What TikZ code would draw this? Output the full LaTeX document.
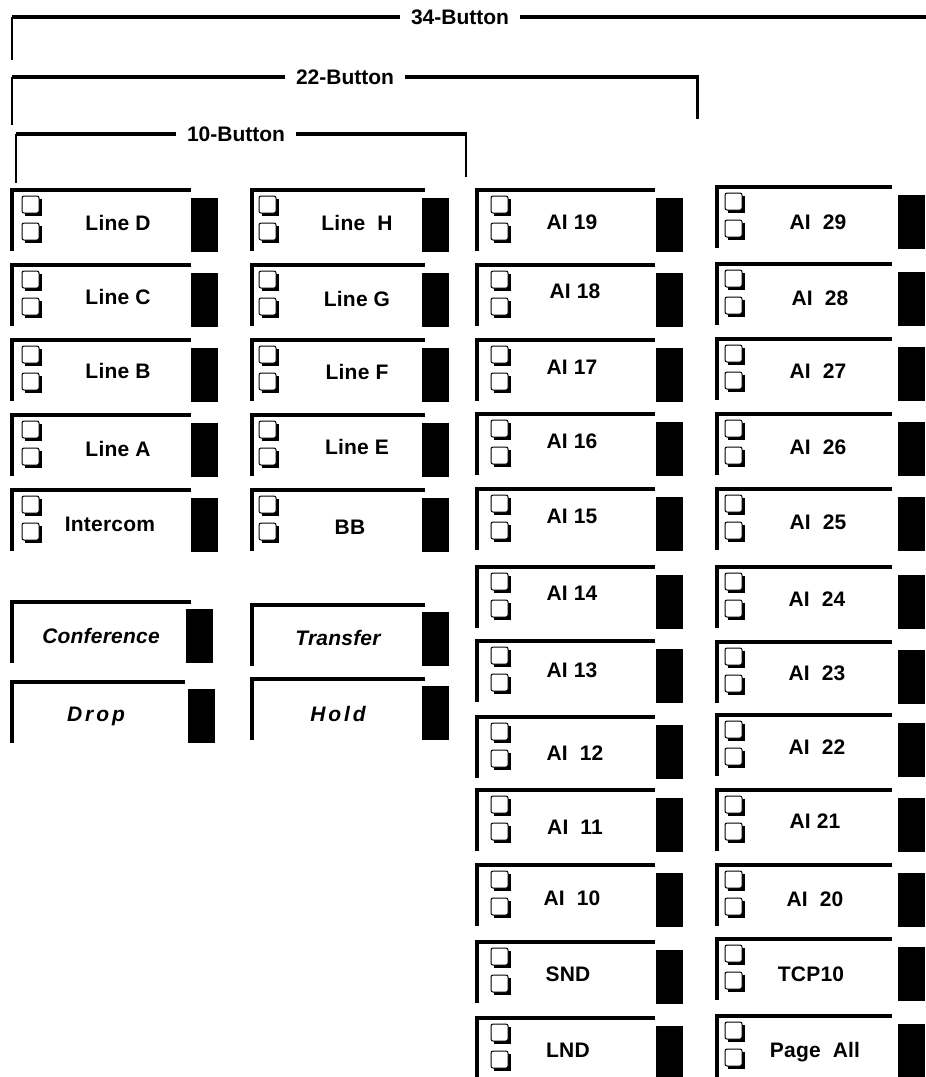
\documentclass[tikz,border=0pt]{standalone}
\usepackage{fontspec}
\setmainfont{Liberation Sans}
\newfontfamily\keyfont{Liberation Sans}[LetterSpace=1.0]
\newfontfamily\spreadfont{Liberation Sans}[LetterSpace=14.0]

\tikzset{
  keyline/.style={line width=4pt},
  tickline/.style={line width=2pt},
  keytext/.style={font=\fontsize{21}{23}\selectfont\keyfont\bfseries, inner sep=0pt,
    text height=15pt, text depth=0pt},
  feattext/.style={keytext, font=\fontsize{21}{23}\selectfont\keyfont\bfseries\itshape},
  headtext/.style={keytext, font=\fontsize{21}{23}\selectfont\bfseries, inner xsep=11pt}
}

% lamp square with its shadow
\newcommand{\keylamp}[2]{%
  \fill (#1+3,#2+3) rectangle (#1+20,#2+20);
  \filldraw[fill=white, line width=1pt, rounded corners=2pt] (#1,#2) rectangle (#1+17,#2+17);
}
% button with two lamps: name, x0, y0, label x, label y, text
\newcommand{\linekey}[6]{%
  \draw[keyline] (#2+2,#3) -- (#2+2,#3+63);
  \draw[keyline] (#2,#3+2) -- (#2+\keylen,#3+2);
  \keylamp{#2+\lampx}{#3+8}
  \keylamp{#2+\lampx}{#3+35}
  \fill (#2+\keyrect,#3+10) rectangle (#2+\keyrect+27,#3+64);
  \node[keytext] (#1) at (#4,#5) {#6};
}
% button without lamps
\newcommand{\featkey}[6]{%
  \draw[keyline] (#2+2,#3) -- (#2+2,#3+63);
  \draw[keyline] (#2,#3+2) -- (#2+\keylen,#3+2);
  \fill (#2+\keyrect,#3+9) rectangle (#2+\keyrect+27,#3+63);
  \node[feattext] (#1) at (#4,#5) {#6};
}

\begin{document}
\begin{tikzpicture}[x=1pt,y=-1pt]
\useasboundingbox (0,0) rectangle (926,1077);

%Brackets
\node[headtext] (b34) at (460,17) {34-Button};
\draw[keyline] (12,17) -- (b34.west);
\draw[keyline] (b34.east) -- (926,17);
\draw[tickline] (12,17) -- (12,60);

\node[headtext] (b22) at (345,77) {22-Button};
\draw[keyline] (12,77) -- (b22.west);
\draw[keyline] (b22.east) -- (698.5,77);
\draw[tickline] (12,77) -- (12,125);
\draw[line width=3pt] (697,77) -- (697,119);

\node[headtext] (b10) at (236,134) {10-Button};
\draw[keyline] (16,134) -- (b10.west);
\draw[keyline] (b10.east) -- (467,134);
\draw[tickline] (16,134) -- (16,183);
\draw[tickline] (466,134) -- (466,177);

%Column 1
\def\keylen{181}\def\keyrect{181}\def\lampx{12}
\linekey{lineD}{10}{188}{118}{223}{Line D}
\linekey{lineC}{10}{263}{118}{297}{Line C}
\linekey{lineB}{10}{338}{118}{371}{Line B}
\linekey{lineA}{10}{413}{118}{449}{Line A}
\linekey{icom}{10}{488}{110}{524}{Intercom}
\def\keyrect{176}
\featkey{conf}{10}{600}{101}{636}{Conference}
\def\keylen{175}\def\keyrect{178}
\featkey{drop}{10}{680}{96}{714}{\spreadfont Drop}

%Column 2
\def\keylen{175}\def\keyrect{172}\def\lampx{9}
\linekey{lineH}{250}{188}{357}{223}{Line\ \ H}
\linekey{lineG}{250}{263}{357}{299}{Line G}
\linekey{lineF}{250}{338}{357}{372}{Line F}
\linekey{lineE}{250}{413}{357}{447}{Line E}
\linekey{bb}{250}{488}{350}{527}{BB}
\featkey{transfer}{250}{603}{338}{638}{Transfer}
\featkey{hold}{250}{677}{338}{714}{\spreadfont Hold}

%Column 3
\def\keylen{180}\def\keyrect{181}\def\lampx{16}
\linekey{ai19}{475}{188}{572}{222}{AI 19}
\linekey{ai18}{475}{263}{575}{291}{AI 18}
\linekey{ai17}{475}{338}{572}{367}{AI 17}
\linekey{ai16}{475}{412}{572}{441}{AI 16}
\linekey{ai15}{475}{487}{572}{516}{AI 15}
\linekey{ai14}{475}{565}{572}{593}{AI 14}
\linekey{ai13}{475}{639}{572}{670}{AI 13}
\linekey{ai12}{475}{715}{575}{753}{AI\ \ 12}
\linekey{ai11}{475}{788}{575}{827}{AI\ \ 11}
\linekey{ai10}{475}{863}{572}{898}{AI\ \ 10}
\linekey{snd}{475}{940}{568}{974}{SND}
\linekey{lnd}{475}{1016}{568}{1050}{LND}

%Column 4
\def\keylen{177}\def\keyrect{183}\def\lampx{10}
\linekey{ai29}{715}{185}{818}{222}{AI\ \ 29}
\linekey{ai28}{715}{262}{820}{298}{AI\ \ 28}
\linekey{ai27}{715}{337}{818}{371}{AI\ \ 27}
\linekey{ai26}{715}{412}{818}{447}{AI\ \ 26}
\linekey{ai25}{715}{487}{818}{522}{AI\ \ 25}
\linekey{ai24}{715}{565}{817}{599}{AI\ \ 24}
\linekey{ai23}{715}{640}{817}{673}{AI\ \ 23}
\linekey{ai22}{715}{713}{817}{747}{AI\ \ 22}
\linekey{ai21}{715}{788}{815}{821}{AI 21}
\linekey{ai20}{715}{863}{815}{899}{AI\ \ 20}
\linekey{tcp}{715}{937}{811}{974}{TCP10}
\linekey{page}{715}{1014}{815}{1050}{Page\ \ All}

\end{tikzpicture}
\end{document}
